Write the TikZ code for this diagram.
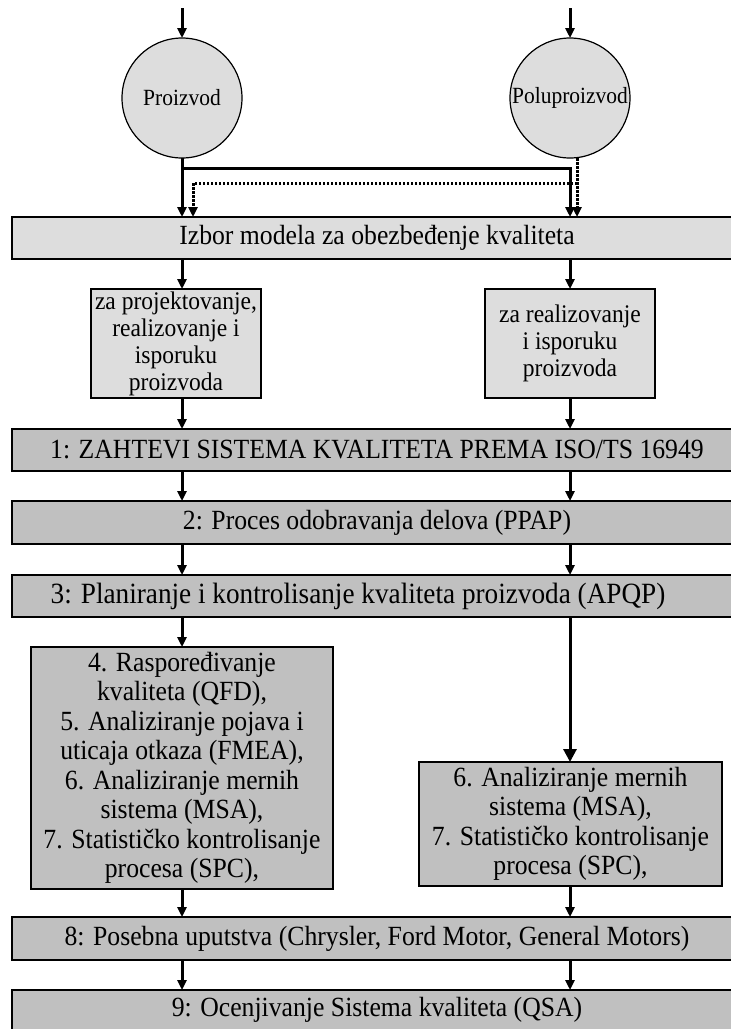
\documentclass[tikz,border=0pt]{standalone}
\usepackage{fontspec}
\setmainfont{Liberation Serif}[FakeStretch=0.926]
\usetikzlibrary{arrows.meta}
\definecolor{boxlight}{RGB}{221,221,221}
\definecolor{boxdark}{RGB}{192,192,192}
\begin{document}
\begin{tikzpicture}[x=1pt,y=-1pt,
  box/.style={draw=black,line width=1.2pt,inner sep=0pt,outer sep=0pt,align=center,
    font=\fontsize{27.76}{29.5}\selectfont},
  lbox/.style={box,fill=boxlight},
  dbox/.style={box,fill=boxdark},
  smalltext/.style={font=\fontsize{25.4}{27}\selectfont},
  bigtext/.style={font=\fontsize{29.4}{30}\selectfont},
  circ/.style={circle,draw=black,line width=1.2pt,fill=boxlight,minimum size=120pt,
    inner sep=0pt,outer sep=0pt,font=\fontsize{23.2}{25}\selectfont},
  arr/.style={line width=3pt,-{Triangle[length=10pt,width=9pt]}},
  bigarr/.style={line width=3pt,-{Triangle[length=13pt,width=13pt]}},
  dotarr/.style={arr,dash pattern=on 2.5pt off 1.5pt},
]
\useasboundingbox (0,0) rectangle (731,1029);
\clip (0,0) rectangle (731,1029);
\fill[white] (0,0) rectangle (731,1029);

% column coordinates
\coordinate (xL) at (182,0);
\coordinate (xR) at (570,0);
\coordinate (xLd) at (193,0);
\coordinate (xRd) at (577,0);
\coordinate (hS) at (0,168);
\coordinate (hD) at (0,183);
\coordinate (tL) at (182,8);
\coordinate (tR) at (570,8);

% circles
\node[circ] (cL) at (182,98) {Proizvod};
\node[circ] (cR) at (570,98) {Poluproizvod};

% boxes
\node[lbox,minimum width=730pt,minimum height=42pt] (izbor) at (377,238)
  {Izbor modela za obezbeđenje kvaliteta};
\node[lbox,smalltext,minimum width=170pt,minimum height=109pt] (sL) at (176,343.5)
  {za projektovanje,\\realizovanje i\\isporuku\\proizvoda};
\node[lbox,smalltext,minimum width=170pt,minimum height=109pt] (sR) at (570,343.5)
  {za realizovanje\\i isporuku\\proizvoda};
\node[dbox,minimum width=730pt,minimum height=42pt] (b1) at (377,450)
  {1: ZAHTEVI SISTEMA KVALITETA PREMA ISO/TS 16949};
\node[dbox,minimum width=730pt,minimum height=43pt] (b2) at (377,522.5)
  {2: Proces odobravanja delova (PPAP)};
\node[dbox,bigtext,minimum width=730pt,minimum height=42pt] (b3) at (377,596)
  {3: Planiranje i kontrolisanje kvaliteta proizvoda (APQP)\hspace*{38pt}};
\node[dbox,minimum width=302pt,minimum height=242pt] (bigL) at (182,768)
  {4. Raspoređivanje\\kvaliteta (QFD),\\5. Analiziranje pojava i\\uticaja otkaza (FMEA),\\6. Analiziranje mernih\\sistema (MSA),\\7. Statističko kontrolisanje\\procesa (SPC),};
\node[dbox,minimum width=303pt,minimum height=124pt] (bigR) at (570.5,824)
  {6. Analiziranje mernih\\sistema (MSA),\\7. Statističko kontrolisanje\\procesa (SPC),};
\node[dbox,minimum width=730pt,minimum height=43pt] (b8) at (377,938.5)
  {8: Posebna uputstva (Chrysler, Ford Motor, General Motors)};
\node[dbox,minimum width=730pt,minimum height=40pt] (b9) at (377,1010)
  {9: Ocenjivanje Sistema kvaliteta (QSA)};

% connectors
\draw[arr] (tL) -- (cL.north);
\draw[arr] (tR) -- (cR.north);
\draw[arr] (cL.south) -- (izbor.north -| xL);
\draw[arr] (xL |- hS) -| (izbor.north -| xR);
\draw[dotarr] (xRd |- cR.south) -- (izbor.north -| xRd);
\draw[dotarr] (xRd |- hD) -| (izbor.north -| xLd);

\draw[arr] (izbor.south -| xL) -- (sL.north -| xL);
\draw[arr] (izbor.south -| xR) -- (sR.north -| xR);
\draw[arr] (sL.south -| xL) -- (b1.north -| xL);
\draw[arr] (sR.south -| xR) -- (b1.north -| xR);
\draw[arr] (b1.south -| xL) -- (b2.north -| xL);
\draw[arr] (b1.south -| xR) -- (b2.north -| xR);
\draw[arr] (b2.south -| xL) -- (b3.north -| xL);
\draw[arr] (b2.south -| xR) -- (b3.north -| xR);
\draw[arr] (b3.south -| xL) -- (bigL.north -| xL);
\draw[bigarr] (b3.south -| xR) -- (bigR.north -| xR);
\draw[arr] (bigL.south -| xL) -- (b8.north -| xL);
\draw[arr] (bigR.south -| xR) -- (b8.north -| xR);
\draw[arr] (b8.south -| xL) -- (b9.north -| xL);
\draw[arr] (b8.south -| xR) -- (b9.north -| xR);
\end{tikzpicture}
\end{document}
